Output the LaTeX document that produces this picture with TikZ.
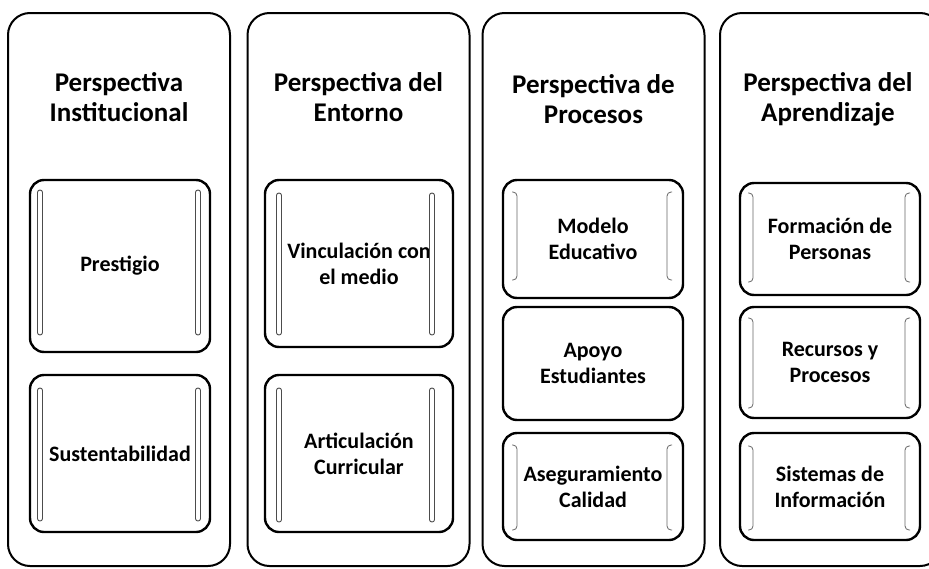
\documentclass[tikz,border=0pt]{standalone}
\usepackage{fontspec}
\setmainfont{Carlito}
\newcommand\barpair[4]{% xl xr top bot : narrow closed bars
  \draw[bar] (#1-2.5,#3) rectangle (#1+2.5,#4);
  \draw[bar] (#2-2.5,#3) rectangle (#2+2.5,#4);}
\newcommand\brkpair[4]{% xl xr top bot : brackets
  \draw[brk] (#1-5,#3) -- (#1,#3) -- (#1,#4) -- (#1-5,#4);
  \draw[brk] (#2+5,#3) -- (#2,#3) -- (#2,#4) -- (#2+5,#4);}
\begin{document}
\begin{tikzpicture}[x=1pt,y=-1pt,
  col/.style={draw=black, line width=2pt, rounded corners=22pt, minimum width=222pt, minimum height=553pt, inner sep=0pt},
  item/.style={draw=black, line width=2.4pt, rounded corners=14pt, minimum width=180pt, align=center,
    font=\fontsize{22}{26}\selectfont\bfseries, inner sep=0pt},
  ttl/.style={align=center, font=\fontsize{27}{30}\selectfont\bfseries, inner sep=0pt},
  bar/.style={draw=black!70, line width=0.9pt, rounded corners=2.4pt},
  brk/.style={draw=black!60, line width=0.8pt, rounded corners=4pt}]
\useasboundingbox (0,0) rectangle (929,568);
\clip (0,0) rectangle (929,568);

% columns
\node[col] (c1) at (119,289.5) {};
\node[col] (c2) at (358.5,289.5) {};
\node[col] (c3) at (593.5,289.5) {};
\node[col] (c4) at (831,289.5) {};

% titles
\node[ttl] (t1) at (119,97) {Perspectiva\\Institucional};
\node[ttl] (t2) at (358.5,97) {Perspectiva del\\Entorno};
\node[ttl] (t3) at (593.5,99) {Perspectiva de\\Procesos};
\node[ttl] (t4) at (828,99) {Perspectiva del\\Aprendizaje};

% column 1
\node[item, minimum height=172pt] (prest) at (120,266) {Prestigio};
\node[item, minimum height=157pt] (sust) at (120,453.5) {Sustentabilidad};
\barpair{40}{198}{190}{335}
\barpair{40}{198}{388}{521}

% column 2
\node[item, minimum width=188pt, minimum height=167pt] (vinc) at (359,263.5) {Vinculación con\\el medio};
\node[item, minimum width=188pt, minimum height=157pt] (artic) at (359,453.5) {Articulación\\Curricular};
\barpair{279}{432}{193}{335}
\barpair{279}{432}{388}{522}

% column 3
\node[item, minimum height=118pt] (model) at (593,239) {Modelo\\Educativo};
\node[item, minimum height=113pt] (apoyo) at (593,363.5) {Apoyo\\Estudiantes};
\node[item, minimum height=107pt] (aseg) at (593,486.5) {Aseguramiento\\Calidad};
\brkpair{517}{667}{192}{280}
\brkpair{517}{667}{445}{530}

% column 4
\node[item, minimum height=112pt] (form) at (830,239) {Formación de\\Personas};
\node[item, minimum height=111pt] (recur) at (830,362.5) {Recursos y\\Procesos};
\node[item, minimum height=107pt] (sist) at (830,486.5) {Sistemas de\\Información};
\brkpair{753}{905}{193}{282}
\brkpair{753}{905}{318}{408}
\brkpair{753}{905}{446}{530}
\end{tikzpicture}
\end{document}
